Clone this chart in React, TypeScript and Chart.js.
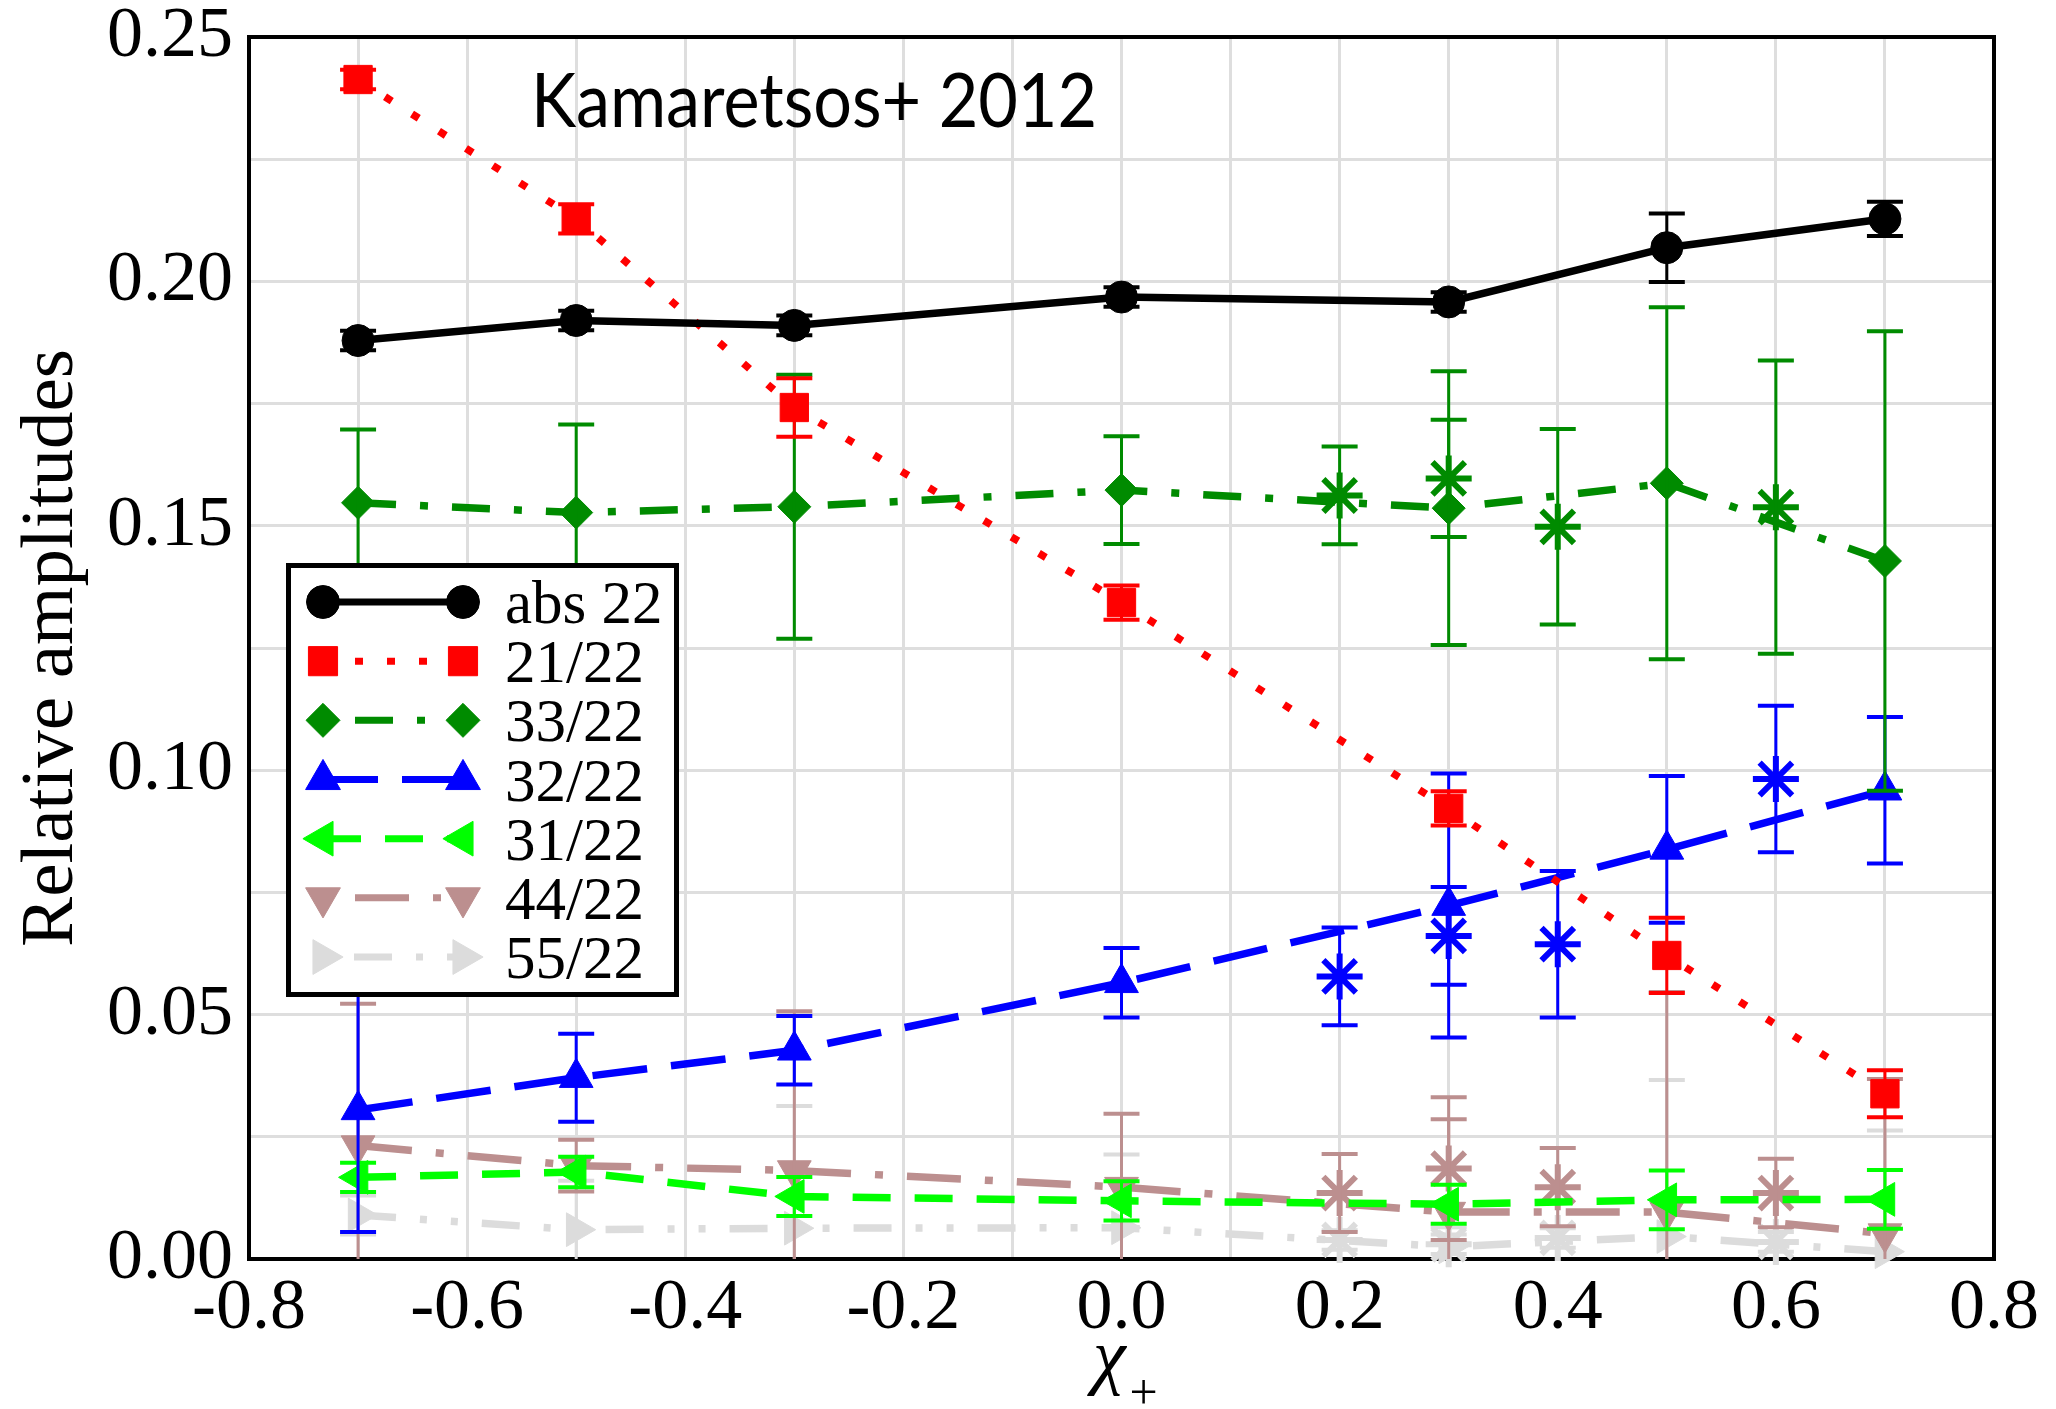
import React, { useEffect, useRef } from 'react';
import { Chart, registerables } from 'chart.js';

Chart.register(...registerables);

// Spin values of the simulated runs
const SPIN_MAIN = [-0.7, -0.5, -0.3, 0.0, 0.3, 0.5, 0.7];
const SPIN_EXTRA = [0.2, 0.3, 0.4, 0.6];

// abs 22
const ABS22 = [0.1879, 0.192, 0.191, 0.1968, 0.1958, 0.2069, 0.2128];
const ABS22_ERR = [0.002, 0.002, 0.002, 0.002, 0.002, 0.007, 0.0035];

// 21/22
const R21 = [0.2413, 0.2128, 0.1742, 0.1343, 0.0922, 0.0621, 0.0338];
const R21_ERR = [0.002, 0.003, 0.006, 0.0035, 0.0035, 0.0077, 0.0048];

// 33/22
const R33 = [0.1547, 0.1527, 0.1539, 0.1573, 0.1536, 0.1587, 0.1428];
const R33_ERR = [0.015, 0.018, 0.027, 0.011, 0.028, 0.036, 0.047];
const R33_EXTRA = [0.1562, 0.1597, 0.1498, 0.1538];
const R33_EXTRA_ERR = [0.01, 0.012, 0.02, 0.03];

// 32/22
const R32 = [0.0305, 0.0371, 0.0427, 0.0565, 0.0723, 0.0838, 0.0959];
const R32_ERR = [0.025, 0.009, 0.007, 0.0071, 0.027, 0.015, 0.015];
const R32_EXTRA = [0.0578, 0.0661, 0.0644, 0.0982];
const R32_EXTRA_ERR = [0.01, 0.01, 0.015, 0.015];

// 31/22
const R31 = [0.0167, 0.0178, 0.0128, 0.0119, 0.0112, 0.0121, 0.0122];
const R31_ERR = [0.003, 0.0031, 0.004, 0.004, 0.004, 0.006, 0.006];

// 44/22
const R44 = [0.0232, 0.0191, 0.0181, 0.0147, 0.0096, 0.0096, 0.0052];
const R44_ERR = [0.029, 0.0053, 0.0326, 0.015, 0.019, 0.045, 0.0316];
const R44_EXTRA = [0.0135, 0.0185, 0.0147, 0.0135];
const R44_EXTRA_ERR = [0.008, 0.0146, 0.008, 0.007];

// 55/22
const R55 = [0.009, 0.006, 0.0063, 0.0064, 0.0025, 0.0046, 0.0015];
const R55_ERR = [0.004, 0.01, 0.025, 0.015, 0.004, 0.032, 0.0248];
const R55_EXTRA = [0.0039, 0.003, 0.0043, 0.0035];
const R55_EXTRA_ERR = [0.002, 0.002, 0.002, 0.002];

const X_TICK_LABELS = ['-0.8', '-0.6', '-0.4', '-0.2', '0.0', '0.2', '0.4', '0.6', '0.8'];
const Y_TICK_LABELS = ['0.00', '0.05', '0.10', '0.15', '0.20', '0.25'];

const SERIF = "'Liberation Serif', 'Times New Roman', serif";

type PStyle = 'circle' | 'rect' | 'rectRot' | 'triangle' | 'star';

interface Series {
  label: string;
  color: string;
  x: number[];
  y: number[];
  err: number[];
  style: PStyle;
  radius: number;
  rotation: number;
  dash: number[] | null; // null: markers only
  legendOffset?: number;
}

const SERIES: Series[] = [
  { label: 'abs 22', color: '#000000', x: SPIN_MAIN, y: ABS22, err: ABS22_ERR, style: 'circle', radius: 16, rotation: 0, dash: [], legendOffset: 0 },
  { label: '21/22', color: '#ff0000', x: SPIN_MAIN, y: R21, err: R21_ERR, style: 'rect', radius: 20, rotation: 0, dash: [8, 24], legendOffset: 0 },
  { label: '33/22', color: '#008b00', x: SPIN_MAIN, y: R33, err: R33_ERR, style: 'rectRot', radius: 16.5, rotation: 0, dash: [38, 24, 8, 24], legendOffset: 62 },
  { label: '33/22 *', color: '#008b00', x: SPIN_EXTRA, y: R33_EXTRA, err: R33_EXTRA_ERR, style: 'star', radius: 23, rotation: 0, dash: null },
  { label: '32/22', color: '#0000ff', x: SPIN_MAIN, y: R32, err: R32_ERR, style: 'triangle', radius: 19.5, rotation: 0, dash: [55, 24], legendOffset: 0 },
  { label: '32/22 *', color: '#0000ff', x: SPIN_EXTRA, y: R32_EXTRA, err: R32_EXTRA_ERR, style: 'star', radius: 23, rotation: 0, dash: null },
  { label: '31/22', color: '#00ff00', x: SPIN_MAIN, y: R31, err: R31_ERR, style: 'triangle', radius: 19.5, rotation: -90, dash: [38, 24], legendOffset: 0 },
  { label: '44/22', color: '#bc8f8f', x: SPIN_MAIN, y: R44, err: R44_ERR, style: 'triangle', radius: 19.5, rotation: 180, dash: [54, 24, 8, 24], legendOffset: 78 },
  { label: '44/22 *', color: '#bc8f8f', x: SPIN_EXTRA, y: R44_EXTRA, err: R44_EXTRA_ERR, style: 'star', radius: 23, rotation: 0, dash: null },
  { label: '55/22', color: '#dcdcdc', x: SPIN_MAIN, y: R55, err: R55_ERR, style: 'triangle', radius: 19.5, rotation: 90, dash: [38, 24, 7, 24, 7, 24], legendOffset: 93 },
  { label: '55/22 *', color: '#dcdcdc', x: SPIN_EXTRA, y: R55_EXTRA, err: R55_EXTRA_ERR, style: 'star', radius: 23, rotation: 0, dash: null },
];

function drawMarker(ctx: CanvasRenderingContext2D, s: Series, x: number, y: number, scale = 1) {
  const r = s.radius * scale;
  ctx.save();
  ctx.translate(x, y);
  ctx.rotate((s.rotation * Math.PI) / 180);
  ctx.fillStyle = s.color;
  ctx.strokeStyle = s.color;
  ctx.lineWidth = 1;
  ctx.setLineDash([]);
  ctx.beginPath();
  if (s.style === 'circle') {
    ctx.arc(0, 0, r, 0, Math.PI * 2);
  } else if (s.style === 'rect') {
    const h = r * Math.SQRT1_2;
    ctx.rect(-h, -h, 2 * h, 2 * h);
  } else if (s.style === 'rectRot') {
    ctx.moveTo(0, -r);
    ctx.lineTo(r, 0);
    ctx.lineTo(0, r);
    ctx.lineTo(-r, 0);
    ctx.closePath();
  } else if (s.style === 'triangle') {
    ctx.moveTo(0, -r);
    ctx.lineTo(r * Math.sin((2 * Math.PI) / 3), -r * Math.cos((2 * Math.PI) / 3));
    ctx.lineTo(r * Math.sin((4 * Math.PI) / 3), -r * Math.cos((4 * Math.PI) / 3));
    ctx.closePath();
  }
  ctx.fill();
  ctx.stroke();
  ctx.restore();
}

const errorBarPlugin = {
  id: 'errorBars',
  afterDatasetDraw(chart: any, args: any) {
    const ds = chart.data.datasets[args.index];
    if (!ds.errorBars) return;
    const { ctx, chartArea } = chart;
    const xs = chart.scales.x;
    const ys = chart.scales.y;
    const half = 18;
    ctx.save();
    ctx.strokeStyle = ds.pointBorderColor;
    ctx.setLineDash([]);
    ctx.lineCap = 'butt';
    ds.data.forEach((p: { x: number; y: number }, i: number) => {
      const e = ds.errorBars[i];
      const px = xs.getPixelForValue(p.x);
      let top = ys.getPixelForValue(p.y + e);
      let bot = ys.getPixelForValue(p.y - e);
      const topIn = top >= chartArea.top - 0.5;
      const botIn = bot <= chartArea.bottom + 0.5;
      top = Math.max(top, chartArea.top);
      bot = Math.min(bot, chartArea.bottom);
      ctx.lineWidth = 3;
      ctx.beginPath();
      ctx.moveTo(px, top);
      ctx.lineTo(px, bot);
      ctx.stroke();
      ctx.lineWidth = 4;
      ctx.beginPath();
      if (topIn) {
        ctx.moveTo(px - half, top);
        ctx.lineTo(px + half, top);
      }
      if (botIn) {
        ctx.moveTo(px - half, bot);
        ctx.lineTo(px + half, bot);
      }
      ctx.stroke();
    });
    ctx.restore();
  },
};

const framePlugin = {
  id: 'frameAndText',
  beforeDatasetsDraw(chart: any) {
    const { ctx, chartArea } = chart;
    ctx.save();
    ctx.strokeStyle = '#000';
    ctx.lineWidth = 4;
    ctx.setLineDash([]);
    ctx.strokeRect(chartArea.left, chartArea.top, chartArea.right - chartArea.left, chartArea.bottom - chartArea.top);

    // annotation
    const note = 'Kamaretsos+ 2012';
    ctx.fillStyle = '#000';
    ctx.font = "76px Lato, 'Open Sans', sans-serif";
    ctx.textAlign = 'left';
    ctx.textBaseline = 'alphabetic';
    const w = ctx.measureText(note).width;
    ctx.translate(531, 127);
    ctx.scale(566 / w, 1);
    ctx.fillText(note, 0, 0);
    ctx.restore();
  },
  afterDraw(chart: any) {
    const { ctx, chartArea } = chart;
    ctx.save();
    ctx.fillStyle = '#000';

    // y-axis title
    ctx.save();
    ctx.translate(72, (chartArea.top + chartArea.bottom) / 2);
    ctx.rotate(-Math.PI / 2);
    ctx.font = `75px ${SERIF}`;
    ctx.textAlign = 'center';
    ctx.textBaseline = 'alphabetic';
    ctx.fillText('Relative amplitudes', 0, 0);
    ctx.restore();

    // x-axis title: chi with subscript plus
    const cx = (chartArea.left + chartArea.right) / 2;
    ctx.font = `italic 74px ${SERIF}`;
    ctx.textAlign = 'right';
    ctx.textBaseline = 'alphabetic';
    ctx.fillText('χ', cx + 4, 1380);
    ctx.font = `50px ${SERIF}`;
    ctx.textAlign = 'left';
    ctx.fillText('+', cx + 8, 1409);

    // legend
    const bx = 286, by = 563, bw = 393, bh = 434;
    ctx.fillStyle = '#fff';
    ctx.fillRect(bx, by, bw, bh);
    ctx.strokeStyle = '#000';
    ctx.lineWidth = 5;
    ctx.setLineDash([]);
    ctx.strokeRect(bx + 2.5, by + 2.5, bw - 5, bh - 5);

    const entries = SERIES.filter((s) => s.dash !== null);
    const x0 = 323, x1 = 463, rowTop = 602, rowStep = 59.17;
    entries.forEach((s, i) => {
      const y = rowTop + i * rowStep;
      ctx.save();
      ctx.strokeStyle = s.color;
      ctx.lineWidth = 7;
      ctx.lineCap = 'butt';
      ctx.setLineDash(s.dash as number[]);
      ctx.lineDashOffset = s.legendOffset || 0;
      ctx.beginPath();
      ctx.moveTo(x0, y);
      ctx.lineTo(x1, y);
      ctx.stroke();
      ctx.restore();
      drawMarker(ctx, s, x0, y, 1.03);
      drawMarker(ctx, s, x1, y, 1.03);
      ctx.fillStyle = '#000';
      ctx.font = `61px ${SERIF}`;
      ctx.textAlign = 'left';
      ctx.textBaseline = 'alphabetic';
      ctx.fillText(s.label, 505, y + 21);
    });
    ctx.restore();
  },
};

function buildDatasets() {
  return SERIES.map((s) => {
    const isLine = s.dash !== null;
    return {
      label: s.label,
      data: s.x.map((x, i) => ({ x, y: s.y[i] })),
      errorBars: s.err,
      showLine: isLine,
      borderColor: s.color,
      backgroundColor: s.color,
      borderWidth: 7.5,
      borderDash: isLine ? (s.dash as number[]) : [],
      borderCapStyle: 'butt' as const,
      tension: 0,
      clip: false as const,
      pointStyle: s.style,
      pointRadius: s.radius,
      pointRotation: s.rotation,
      pointBackgroundColor: s.color,
      pointBorderColor: s.color,
      pointBorderWidth: s.style === 'star' ? 6 : 1,
      pointHoverRadius: s.radius,
    };
  });
}

export default function App() {
  const ref = useRef<HTMLCanvasElement>(null);

  useEffect(() => {
    document.body.style.margin = '0';
    document.body.style.overflow = 'hidden';
    let chart: Chart | null = null;
    let cancelled = false;

    const make = () => {
      if (cancelled || !ref.current) return;
      const xLabelValues = X_TICK_LABELS.map(Number);
      const yLabelValues = Y_TICK_LABELS.map(Number);
      chart = new Chart(ref.current, {
        type: 'line',
        data: { datasets: buildDatasets() as any },
        options: {
          responsive: false,
          animation: false,
          devicePixelRatio: 1,
          events: [],
          layout: { padding: { top: 37, right: 62, left: 0, bottom: 0 } },
          plugins: { legend: { display: false }, tooltip: { enabled: false }, title: { display: false } },
          scales: {
            x: {
              type: 'linear',
              min: -0.8,
              max: 0.8,
              afterFit: (scale: any) => {
                scale.height = 150;
              },
              grid: { color: '#dedede', lineWidth: 3, drawTicks: false },
              border: { display: false },
              ticks: {
                stepSize: 0.1,
                autoSkip: false,
                maxRotation: 0,
                minRotation: 0,
                padding: 14,
                color: '#000',
                font: { family: SERIF, size: 72, lineHeight: 1 },
                callback: (v: any) => {
                  const idx = xLabelValues.findIndex((t) => Math.abs(t - Number(v)) < 1e-6);
                  return idx >= 0 ? X_TICK_LABELS[idx] : '';
                },
              },
            },
            y: {
              type: 'linear',
              min: 0,
              max: 0.25,
              afterFit: (scale: any) => {
                scale.width = 249;
              },
              grid: { color: '#dedede', lineWidth: 3, drawTicks: false },
              border: { display: false },
              ticks: {
                stepSize: 0.025,
                autoSkip: false,
                padding: 16,
                color: '#000',
                font: { family: SERIF, size: 72, lineHeight: 0.4 },
                callback: (v: any) => {
                  const idx = yLabelValues.findIndex((t) => Math.abs(t - Number(v)) < 1e-6);
                  return idx >= 0 ? Y_TICK_LABELS[idx] : '';
                },
              },
            },
          },
        },
        plugins: [framePlugin, errorBarPlugin],
      });
    };

    const fontsReady = (document as any).fonts
      ? Promise.all([
          (document as any).fonts.load(`72px ${SERIF}`),
          (document as any).fonts.load('74px Lato'),
        ]).catch(() => null)
      : Promise.resolve(null);
    fontsReady.then(make);

    return () => {
      cancelled = true;
      if (chart) chart.destroy();
    };
  }, []);

  return (
    <div style={{ position: 'absolute', left: 0, top: 0, width: 2056, height: 1409, background: '#fff' }}>
      <canvas ref={ref} width={2056} height={1409} style={{ width: 2056, height: 1409, display: 'block' }} />
    </div>
  );
}
